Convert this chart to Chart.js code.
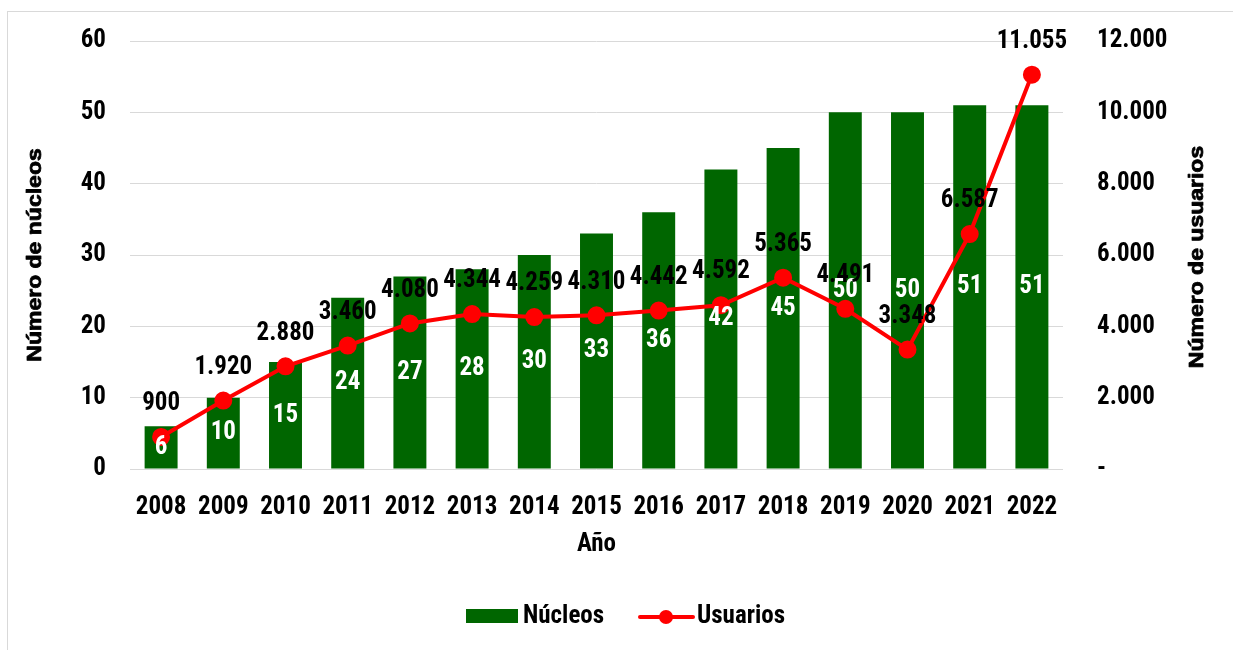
<!DOCTYPE html>
<html><head><meta charset="utf-8">
<script src="https://cdn.jsdelivr.net/npm/chart.js@4/dist/chart.umd.min.js"></script>
<style>
html,body{margin:0;padding:0;background:#fff;}
#wrap{position:relative;width:1233px;height:650px;overflow:hidden;}
#frame{position:absolute;left:7px;top:11px;width:1300px;height:700px;border:1px solid #d9d9d9;box-sizing:border-box;}
canvas{position:absolute;left:0;top:0;}
</style></head><body>
<div id="wrap"><div id="frame"></div><canvas id="c" width="1233" height="650"></canvas></div>
<script>
const years = ['2008','2009','2010','2011','2012','2013','2014','2015','2016','2017','2018','2019','2020','2021','2022'];
const nucleos = [6,10,15,24,27,28,30,33,36,42,45,50,50,51,51];
const usuarios = [900,1920,2880,3460,4080,4344,4259,4310,4442,4592,5365,4491,3348,6587,11055];
const leftTicks = [0,10,20,30,40,50,60];
const rightTicks = [0,2000,4000,6000,8000,10000,12000];

const FAMILY = "'Roboto Condensed','Liberation Sans Narrow','Arial Narrow',sans-serif";
const FSIZE = 25;
const FONT = 'bold ' + FSIZE + 'px ' + FAMILY;
const TITLE_FONT = "bold 23px 'Liberation Sans','Arial',sans-serif";
const GREEN = '#006600';
const RED = '#ff0000';

function fmt(v){ return v === 0 ? '-' : String(v).replace(/\B(?=(\d{3})+(?!\d))/g, '.'); }

function vTitle(ctx, text, x, y){
  ctx.save();
  ctx.font = TITLE_FONT;
  ctx.translate(x, y);
  ctx.scale(0.87, 1);
  ctx.rotate(-Math.PI/2);
  ctx.fillStyle = '#000';
  ctx.strokeStyle = '#000';
  ctx.lineWidth = 0.9;
  ctx.lineJoin = 'round';
  ctx.fillText(text, 0, 0);
  ctx.strokeText(text, 0, 0);
  ctx.restore();
}

const custom = {
  id: 'custom',
  afterDatasetsDraw(chart){
    const ctx = chart.ctx;
    const ca = chart.chartArea;
    ctx.save();
    ctx.font = FONT;
    ctx.textAlign = 'center';
    ctx.textBaseline = 'middle';
    const barMeta = chart.getDatasetMeta(0);
    barMeta.data.forEach((el, i) => {
      const p = el.getProps(['x','y','base'], true);
      ctx.fillStyle = '#ffffff';
      ctx.fillText(String(nucleos[i]), p.x, (p.y + p.base) / 2);
    });
    const lineMeta = chart.getDatasetMeta(1);
    lineMeta.data.forEach((el, i) => {
      const p = el.getProps(['x','y'], true);
      ctx.fillStyle = '#000000';
      ctx.fillText(fmt(usuarios[i]), p.x, p.y - 33);
    });
    ctx.fillStyle = '#000000';
    ctx.fillText('Año', (ca.left + ca.right) / 2, 545);
    const midY = (ca.top + ca.bottom) / 2;
    vTitle(ctx, 'Número de núcleos', 35, midY);
    vTitle(ctx, 'Número de usuarios', 1197, midY + 2);
    ctx.font = FONT;
    ctx.textBaseline = 'middle';
    ctx.fillStyle = GREEN;
    ctx.fillRect(466, 609, 52, 14);
    ctx.fillStyle = '#000';
    ctx.textAlign = 'left';
    ctx.fillText('Núcleos', 523, 617);
    ctx.strokeStyle = RED; ctx.lineWidth = 4; ctx.lineCap = 'round';
    ctx.beginPath(); ctx.moveTo(640, 617); ctx.lineTo(693, 617); ctx.stroke();
    ctx.fillStyle = RED;
    ctx.beginPath(); ctx.arc(666, 617, 7, 0, Math.PI*2); ctx.fill();
    ctx.fillStyle = '#000';
    ctx.fillText('Usuarios', 697, 617);
    ctx.restore();
  }
};

const tickFont = { family: FAMILY, size: FSIZE, weight: 'bold' };

new Chart(document.getElementById('c'), {
  data: {
    labels: years,
    datasets: [
      { type: 'bar', label: 'Núcleos', data: nucleos, backgroundColor: GREEN, yAxisID: 'y', order: 2,
        barPercentage: 0.53, categoryPercentage: 1.0 },
      { type: 'line', label: 'Usuarios', data: usuarios, borderColor: RED, backgroundColor: RED, borderWidth: 4,
        pointRadius: 7, pointHoverRadius: 7, pointBackgroundColor: RED, pointBorderColor: RED, yAxisID: 'y1', order: 1, tension: 0 }
    ]
  },
  options: {
    responsive: false,
    animation: false,
    devicePixelRatio: 1,
    layout: { padding: { top: 41, left: 0, right: 0, bottom: 0 } },
    plugins: { legend: { display: false }, tooltip: { enabled: false }, title: { display: false } },
    scales: {
      x: {
        offset: true,
        grid: { display: false, drawTicks: false },
        border: { display: false },
        ticks: { font: tickFont, color: '#000', padding: 24, maxRotation: 0, autoSkip: false },
        afterFit(s){ s.height = 181; s.paddingLeft = 0; s.paddingRight = 0; }
      },
      y: {
        position: 'left', min: 0, max: 60,
        afterBuildTicks(s){ s.ticks = leftTicks.map(v => ({ value: v })); },
        grid: { color: '#d9d9d9', lineWidth: 1, drawTicks: false },
        border: { display: false },
        ticks: { font: tickFont, color: '#000', padding: 24 },
        afterFit(s){ s.width = 130; s.paddingTop = 0; s.paddingBottom = 0; }
      },
      y1: {
        position: 'right', min: 0, max: 12000,
        afterBuildTicks(s){ s.ticks = rightTicks.map(v => ({ value: v })); },
        grid: { display: false, drawTicks: false },
        border: { display: false },
        ticks: { font: tickFont, color: '#000', padding: 34, callback: v => fmt(v) },
        afterFit(s){ s.width = 170; s.paddingTop = 0; s.paddingBottom = 0; }
      }
    }
  },
  plugins: [custom]
});
</script>
</body></html>
